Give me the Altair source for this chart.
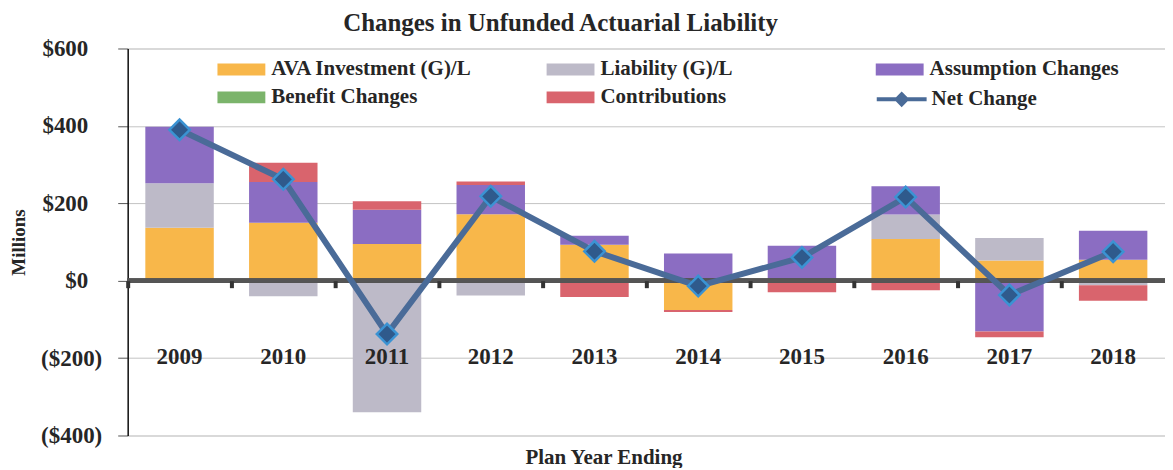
import altair as alt
import pandas as pd

# ---- data (millions of dollars) ----
years = ["2009", "2010", "2011", "2012", "2013", "2014", "2015", "2016", "2017", "2018"]
ava_investment = [137, 150, 95, 172, 93, -76, 0, 108, 52, 54]
liability = [115, -40, -340, -38, 0, 0, 0, 63, 58, -12]
assumption = [146, 105, 88, 75, 23, 70, 90, 73, -131, 75]
benefit = [0, 0, 0, 0, 0, 0, 0, 0, 0, 0]
contributions = [-5, 50, 22, 9, -42, -5, -30, -25, -15, -40]
net_change = [390, 262, -138, 218, 76, -14, 60, 216, -37, 75]

components = ["AVA Investment (G)/L", "Liability (G)/L", "Assumption Changes",
              "Benefit Changes", "Contributions"]
component_colors = ["#F8B74A", "#BDBAC8", "#8B6DC2", "#7BB46B", "#D9646D"]
tick_values = [-400, -200, 0, 200, 400, 600]

series = [ava_investment, liability, assumption, benefit, contributions]
rows = []
for i, yr in enumerate(years):
    for k, (name, vals) in enumerate(zip(components, series)):
        rows.append({"year": yr, "component": name, "value": vals[i], "order": k})
bars_df = pd.DataFrame(rows)
net_df = pd.DataFrame({"year": years, "net": net_change, "series": ["Net Change"] * len(years)})

FONT = "Liberation Serif"
TXT = "#262626"

x_scale = alt.Scale(domain=years, paddingInner=0, paddingOuter=0)
y_scale = alt.Scale(domain=[-400, 600], nice=False, zero=False)

x_axis = alt.Axis(
    orient="bottom", offset=-155.2, domain=False, grid=False,
    ticks=True, tickSize=7, tickWidth=4, tickColor="#333333", bandPosition=0,
    labelAngle=0, labelPadding=58, labelFont=FONT, labelFontSize=23,
    labelFontWeight="bold", labelColor=TXT,
    title="Plan Year Ending", titleFont=FONT, titleFontSize=21, titleFontWeight="bold",
    titleColor=TXT, titlePadding=78, titleX=477, zindex=1,
)

y_axis = alt.Axis(
    values=tick_values,
    labelExpr="datum.value < 0 ? '($' + abs(datum.value) + ')' : '$' + datum.value",
    grid=True, gridColor="#C4C4C4", gridWidth=1,
    domain=True, domainColor="#111111", domainWidth=1.5,
    ticks=True, tickSize=10, tickColor="#555555",
    labelPadding={"condition": {"test": "datum.value >= 0", "value": 30}, "value": 16},
    labelFont=FONT, labelFontSize=23, labelFontWeight="bold", labelColor=TXT,
    title="Millions", titleFont=FONT, titleFontSize=19, titleFontWeight="bold", titleColor=TXT,
    titlePadding=12,
)

bars = alt.Chart(bars_df).mark_bar(width=alt.RelativeBandSize(0.66)).encode(
    x=alt.X("year:N", scale=x_scale, axis=x_axis),
    y=alt.Y("value:Q", stack="zero", scale=y_scale, axis=y_axis),
    fill=alt.Fill(
        "component:N",
        scale=alt.Scale(domain=components, range=component_colors),
        legend=alt.Legend(
            title=None, orient="none", direction="horizontal", legendX=102, legendY=9,
            columns=3, gridAlign="all", columnPadding=74, rowPadding=6, padding=0,
            symbolType="M-2,-0.5H2V0.5H-2Z", symbolSize=576, symbolStrokeWidth=0,
            symbolOpacity=1,
            labelFont=FONT, labelFontSize=21, labelFontWeight="bold", labelColor=TXT,
            labelOffset=18, labelLimit=0,
        ),
    ),
    order=alt.Order("order:Q"),
)

zero_line = alt.Chart(net_df).mark_rule(color="#555555", strokeWidth=4).encode(
    y=alt.datum(0, scale=y_scale),
)

net_line = alt.Chart(net_df).mark_line(strokeWidth=6).encode(
    x=alt.X("year:N", scale=x_scale),
    y=alt.Y("net:Q", scale=y_scale),
    stroke=alt.Stroke(
        "series:N",
        scale=alt.Scale(domain=["Net Change"], range=["#4A6B98"]),
        legend=alt.Legend(
            title=None, orient="none", legendX=761.5, legendY=36.5, padding=0,
            symbolType="M-2,0H2M-0.4,0L0,-0.4L0.4,0L0,0.4Z", symbolSize=625,
            symbolStrokeWidth=4, symbolFillColor="#3A7CC0",
            labelFont=FONT, labelFontSize=21, labelFontWeight="bold", labelColor=TXT,
            labelOffset=15.5, labelLimit=0,
        ),
    ),
)

net_points = alt.Chart(net_df).mark_point(
    shape="diamond", filled=True, size=420, fill="#2F5A8C", stroke="#3B93D3",
    strokeWidth=2.5, opacity=1,
).encode(
    x=alt.X("year:N", scale=x_scale),
    y=alt.Y("net:Q", scale=y_scale),
)

chart = alt.layer(bars, zero_line, net_line, net_points).resolve_scale(
    fill="independent", stroke="independent"
).properties(
    width=1040,
    height=388,
    autosize=alt.AutoSizeParams(type="none"),
    padding={"left": 120, "top": 40, "right": 0, "bottom": 32},
    title=alt.TitleParams(
        "Changes in Unfunded Actuarial Liability", font=FONT, fontSize=25,
        fontWeight="bold", color=TXT, anchor="middle", dx=-86, offset=2, frame="group",
    ),
).configure_view(stroke=None).configure(background="white")

chart.save("out.html", embed_options={"renderer": "svg", "actions": False})
